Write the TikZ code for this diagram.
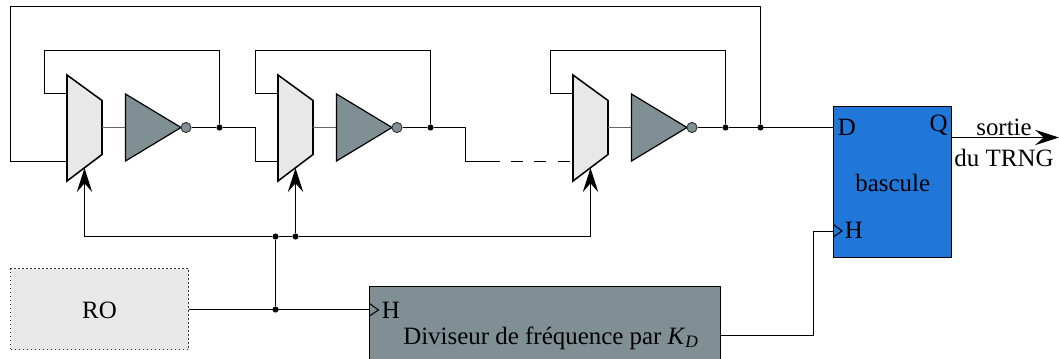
\documentclass[tikz,border=0pt]{standalone}
\usepackage{fontspec}
\setmainfont{Liberation Serif}
\usetikzlibrary{arrows.meta}
\definecolor{grisfonce}{HTML}{7F8F94}
\definecolor{grisclair}{HTML}{E8E8E8}
\definecolor{bleubascule}{HTML}{2176D9}
\tikzset {>={Stealth[length=18pt,width=11.5pt,inset=6.5pt]}}
\tikzset{
  fil/.style={line width=1.15pt,black},
  point/.style={circle,fill=black,inner sep=0pt,minimum size=4.6pt},
  bulle/.style={circle,draw=black!80,line width=.7pt,fill=grisfonce,inner sep=0pt,minimum size=7.6pt},
  bloc/.style={draw=black,line width=1.15pt,inner sep=0pt},
  texte/.style={inner sep=0pt,font=\fontsize{18.7}{20}\selectfont},
  etage/.pic={
    \draw[fil,fill=grisclair] (0,0) -- (35,25.5) -- (35,79.5) -- (0,106) -- cycle;
    \draw[line width=.9pt,black!60] (35,52.5) -- (58.5,52.5);
    \draw[line width=.9pt,black,fill=grisfonce] (58.5,19) -- (114,52.5) -- (58.5,86) -- cycle;
    \node[bulle] (-b) at (119,52.5) {};
    \node[point] (-p) at (152.5,52.5) {};
    \coordinate (-h) at (0,18.5);
    \coordinate (-k) at (0,86.5);
    \coordinate (-s) at (17.5,93);
    \draw[fil] (-b) -- (-p);
    \draw[fil] (-p) |- (-22.5,-24.5) |- (-h);
  }
}
\begin{document}
\begin{tikzpicture}[x=.75pt,y=-.75pt]
\path[use as bounding box,clip] (0,0) rectangle (1059,358);
\pic (m1) at (67,75) {etage};
\pic (m2) at (278,75) {etage};
\pic (m3) at (573,75) {etage};
% blocs
\node[fill=grisclair,draw=black!80,line width=1pt,dash pattern=on 1pt off 2pt,inner sep=0pt,minimum width=133.5pt,minimum height=60.75pt] (ro) at (99.5,309) {};
\node[texte] (rotxt) at (99.5,310) {RO};
\node[bloc,fill=grisfonce,minimum width=263.25pt,minimum height=60pt] (div) at (545,326.5) {};
\node[texte,anchor=west] (divh) at (381.5,310) {H};
\node[texte] (divtxt) at (551,338) {Diviseur de fréquence par \textit{K}\textsubscript{\textit{D}}};
\node[bloc,fill=bleubascule,minimum width=88.5pt,minimum height=113.25pt] (bas) at (892.5,182) {};
\node[texte,anchor=west] (d) at (837.5,127) {D};
\node[texte,anchor=east] (q) at (948,125) {Q};
\node[texte,anchor=west] (h) at (844.5,230) {H};
\node[texte] (bastxt) at (892.7,183) {bascule};
\node[texte] (so) at (1004,127) {sortie};
\node[texte] (trng) at (1004,158) {du TRNG};
% liaisons
\draw[fil] (m1-p) -| (255.5,161.5) -- (m2-k);
\draw[fil] (m2-p) -| (465.5,161.5) -- (500,161.5);
\draw[fil,dash pattern=on 8.7pt off 8.9pt] (511,161.5) -- (m3-k);
\draw[fil] (m3-p) -- (bas.west |- m3-p);
\node[point] (top) at (760.5,127.5) {};
\draw[fil] (top) |- (10.5,6.5) |- (m1-k);
\coordinate (sortie) at (1059,137.5);
\draw[fil,->] (bas.east |- sortie) -- (sortie);
% horloge
\node[point] (c1) at (275.5,236.5) {};
\node[point] (c2) at (295.5,236.5) {};
\node[point] (c3) at (275.5,309.5) {};
\draw[fil] (ro.east |- c3) -- (div.west |- c3);
\draw[fil] (c3) -- (c1);
\draw[fil] (c1) -- (c2);
\draw[fil,->] (c1) -| (m1-s);
\draw[fil,->] (c2) -- (m2-s);
\draw[fil,->] (c2) -| (m3-s);
\draw[fil] (div.east |- 0,335.5) -| (813.5,231.5) -- (bas.west |- 0,231.5);
\draw[line width=.8pt] (369.5,303.5) -- (378.5,310) -- (369.5,316);
\draw[line width=.8pt] (833.5,224.5) -- (842,231) -- (833.5,237);
\end{tikzpicture}
\end{document}
